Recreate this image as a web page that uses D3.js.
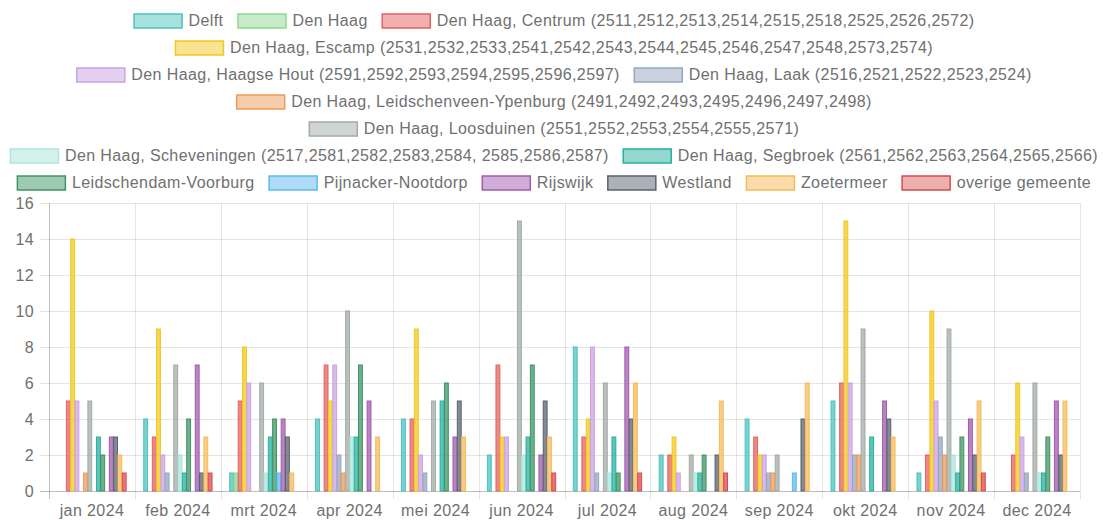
<!DOCTYPE html>
<html lang="nl">
<meta charset="UTF-8">
<style>
    body{margin:0;background:#fff;}
    text{
        font-family:"Liberation Sans",Arial,Helvetica,sans-serif;
        font-size:16px;
        letter-spacing:0.4px;
        fill:#707070;
    }
    .grid line{stroke:rgba(0,0,0,0.1);}
</style>
<body>
<div id="chart"></div>
<script src="https://cdn.jsdelivr.net/npm/d3@7"></script>
<script>
    // data
    var months = ["jan 2024","feb 2024","mrt 2024","apr 2024","mei 2024","jun 2024",
                  "jul 2024","aug 2024","sep 2024","okt 2024","nov 2024","dec 2024"];

    var seriesNames = [
        "Delft",
        "Den Haag",
        "Den Haag, Centrum (2511,2512,2513,2514,2515,2518,2525,2526,2572)",
        "Den Haag, Escamp (2531,2532,2533,2541,2542,2543,2544,2545,2546,2547,2548,2573,2574)",
        "Den Haag, Haagse Hout (2591,2592,2593,2594,2595,2596,2597)",
        "Den Haag, Laak  (2516,2521,2522,2523,2524)",
        "Den Haag, Leidschenveen-Ypenburg (2491,2492,2493,2495,2496,2497,2498)",
        "Den Haag, Loosduinen (2551,2552,2553,2554,2555,2571)",
        "Den Haag, Scheveningen (2517,2581,2582,2583,2584, 2585,2586,2587)",
        "Den Haag, Segbroek (2561,2562,2563,2564,2565,2566)",
        "Leidschendam-Voorburg",
        "Pijnacker-Nootdorp",
        "Rijswijk",
        "Westland",
        "Zoetermeer",
        "overige gemeente"
    ];

    var delft         = [0,4,1,4,4,2,8,2,4,5,1,0];
    var denHaag       = [0,0,1,0,0,0,0,0,0,0,0,0];
    var centrum       = [5,3,5,7,4,7,3,2,3,6,2,2];
    var escamp        = [14,9,8,5,9,3,4,3,2,15,10,6];
    var haagseHout    = [5,2,6,7,2,3,8,1,2,6,5,3];
    var laak          = [0,1,0,2,1,0,1,0,1,2,3,1];
    var leidschenveen = [1,0,0,1,0,0,0,0,1,2,2,0];
    var loosduinen    = [5,7,6,10,5,15,6,2,2,9,9,6];
    var scheveningen  = [0,2,1,3,0,2,1,1,0,0,2,1];
    var segbroek      = [3,1,3,3,5,3,3,1,0,3,1,1];
    var voorburg      = [2,4,4,7,6,7,1,2,0,0,3,3];
    var pijnacker     = [0,0,1,0,0,0,0,0,1,0,0,0];
    var rijswijk      = [3,7,4,5,3,2,8,0,0,5,4,5];
    var westland      = [3,1,3,0,5,5,4,2,4,4,2,2];
    var zoetermeer    = [2,3,1,3,3,3,6,5,6,3,5,5];
    var overige       = [1,1,0,0,0,1,1,1,0,0,1,0];

    var seriesValues = [delft,denHaag,centrum,escamp,haagseHout,laak,leidschenveen,loosduinen,
                        scheveningen,segbroek,voorburg,pijnacker,rijswijk,westland,zoetermeer,overige];

    var yTicks = [0,2,4,6,8,10,12,14,16];

    // styling
    var borderColors = ["#4cc3bd","#8fd68f","#e3625f","#f2c81f","#c9a3e3","#95a6bd","#f09a55","#a3aba5",
                        "#a9e6db","#27b09e","#3f9464","#5cb9ee","#a15bad","#59636f","#f6bb5a","#d9484c"];
    var fillColors   = ["#a6e1de","#c7eac7","#f1b0af","#f8e38f","#e4d1f1","#cad2de","#f7ccaa","#d1d5d2",
                        "#d4f2ed","#93d7ce","#9fc9b1","#aedcf6","#d0add6","#acb1b7","#fadcac","#ecb0ae"];

    var width = 1103, height = 520;
    var plot = {left:49, right:1080, top:203, bottom:491};

    var svg = d3.select("#chart").append("svg")
        .attr("width", width)
        .attr("height", height);

    var x0 = d3.scaleBand()
        .domain(months)
        .range([plot.left, plot.right]);

    var x1 = d3.scaleBand()
        .domain(d3.range(seriesNames.length))
        .range([x0.bandwidth()*0.1, x0.bandwidth()*0.9])
        .paddingInner(0.1)
        .paddingOuter(0.05);

    var y = d3.scaleLinear()
        .domain([0,16])
        .range([plot.bottom, plot.top]);

    // grid
    var grid = svg.append("g").attr("class","grid");
    grid.selectAll("line.h")
        .data(yTicks)
        .enter().append("line")
        .attr("class","h")
        .attr("x1", plot.left - 9)
        .attr("x2", plot.right)
        .attr("y1", function(d){return Math.round(y(d))+0.5;})
        .attr("y2", function(d){return Math.round(y(d))+0.5;})
        .style("stroke", function(d){return d===0 ? "rgba(0,0,0,0.25)" : null;});

    grid.selectAll("line.v")
        .data(months.concat(["end"]))
        .enter().append("line")
        .attr("class","v")
        .attr("x1", function(d,i){return Math.round(plot.left + i*x0.step())+0.5;})
        .attr("x2", function(d,i){return Math.round(plot.left + i*x0.step())+0.5;})
        .attr("y1", plot.top)
        .attr("y2", plot.bottom + 8)
        .style("stroke", function(d,i){return i===0 ? "rgba(0,0,0,0.25)" : null;});

    // y labels
    svg.append("g").selectAll("text")
        .data(yTicks)
        .enter().append("text")
        .attr("x", 34)
        .attr("y", function(d){return y(d);})
        .attr("dy","0.35em")
        .attr("text-anchor","end")
        .text(function(d){return d;});

    // x labels
    svg.append("g").selectAll("text")
        .data(months)
        .enter().append("text")
        .attr("x", function(d){return x0(d) + x0.bandwidth()/2;})
        .attr("y", 510)
        .attr("dy","0.35em")
        .attr("text-anchor","middle")
        .text(function(d){return d;});

    // bars
    var groups = svg.append("g").selectAll("g")
        .data(months)
        .enter().append("g")
        .attr("transform", function(d){return "translate(" + x0(d) + ",0)";});

    groups.selectAll("rect")
        .data(function(d,m){
            return seriesValues.map(function(vals,s){return {s:s, v:vals[m]};})
                .filter(function(e){return e.v > 0;});
        })
        .enter().append("rect")
        .attr("x", function(d){return x1(d.s);})
        .attr("width", x1.bandwidth())
        .attr("y", function(d){return y(d.v);})
        .attr("height", function(d){return y(0) - y(d.v);})
        .style("fill", function(d){return borderColors[d.s];})
        .style("fill-opacity", 0.75)
        .style("stroke", function(d){return borderColors[d.s];})
        .style("stroke-width", 1);

    // legend, wrapped into centred rows
    var boxW = 48, boxH = 14, textGap = 7, itemGap = 14, maxW = 1094;
    var legend = svg.append("g");
    var items = legend.selectAll("g")
        .data(seriesNames)
        .enter().append("g");

    items.append("rect")
        .attr("x", 0.5)
        .attr("y", -boxH/2 + 0.5)
        .attr("width", boxW)
        .attr("height", boxH)
        .style("fill", function(d,i){return fillColors[i];})
        .style("stroke", function(d,i){return borderColors[i];})
        .style("stroke-width", 1.5);

    items.append("text")
        .attr("x", boxW + textGap)
        .attr("y", 0)
        .attr("dy","0.35em")
        .text(function(d){return d;});

    var itemW = [];
    items.each(function(){
        itemW.push(boxW + textGap + d3.select(this).select("text").node().getComputedTextLength());
    });

    var rows = [[]], rowW = [0];
    itemW.forEach(function(w,i){
        var r = rows.length - 1;
        if (rows[r].length && rowW[r] + itemGap + w > maxW) {
            rows.push([]); rowW.push(0); r++;
        }
        rowW[r] += (rows[r].length ? itemGap : 0) + w;
        rows[r].push(i);
    });

    rows.forEach(function(row,r){
        var xPos = 554 - rowW[r]/2;
        row.forEach(function(i){
            d3.select(items.nodes()[i])
              .attr("transform","translate(" + xPos + "," + (20.5 + 27*r) + ")");
            xPos += itemW[i] + itemGap;
        });
    });
</script>
</body>
</html>
